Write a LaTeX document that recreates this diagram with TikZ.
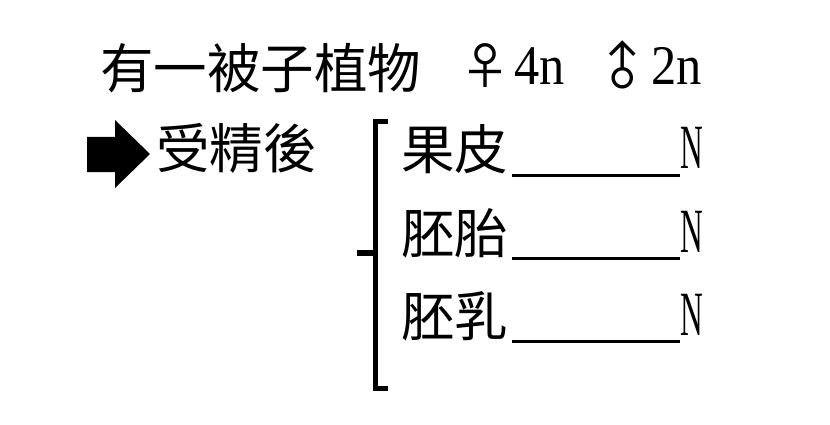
\documentclass[tikz,border=0pt]{standalone}
\usepackage{fontspec}
\newfontfamily\cjk{Noto Sans CJK TC}
\newfontfamily\digitfont[FakeStretch=0.9]{Liberation Serif}
\newfontfamily\capfont[FakeStretch=0.5]{Liberation Serif}

\begin{document}
\begin{tikzpicture}[x=1pt, y=-1pt,
    word/.style={inner sep=0pt, anchor=base west, font=\cjk\fontsize{53.5}{60}\selectfont},
    ploidy/.style={inner sep=0pt, anchor=base west, font=\digitfont\fontsize{56}{60}\selectfont},
    bigN/.style={inner sep=0pt, anchor=base west, font=\capfont\fontsize{63}{66}\selectfont},
    sex/.style={inner sep=0pt, font=\cjk\fontsize{50}{54}\selectfont},
    blank/.style={line width=3pt}]
    \useasboundingbox (0,0) rectangle (830,425);

    % Title line
    \node[word] (plant) at (100,89) {有一被子植物};
    \node[sex] (female) at (485,66) {♀};
    \node[ploidy] (fourn) at (514,85) {4n};
    \node[sex] (male) at (636,80) {\rotatebox{45}{\smash{♂}}};
    \node[ploidy] (twon) at (651,85) {2n};

    % Arrow to fertilisation
    \fill (87,137) -- (115,137) -- (115,120) -- (150,154) -- (115,188) -- (115,172) -- (87,172) -- cycle;
    \node[word] (fert) at (156,168) {受精後};

    % Bracket
    \draw[line width=5pt] (388,121.5) -- (375,121.5) -- (375,388.5) -- (388,388.5);
    \draw[line width=6pt] (357,253) -- (375,253);

    % Parts after fertilisation
    \node[word] (pericarp) at (401,170) {果皮};
    \node[word] (embryo) at (401,253) {胚胎};
    \node[word] (endosperm) at (401,336) {胚乳};

    \node[bigN] (pericarpN) at (680,168) {N};
    \node[bigN] (embryoN) at (680,252) {N};
    \node[bigN] (endospermN) at (680,335) {N};

    % Blanks to fill in
    \draw[blank] ([xshift=4pt, yshift=-5pt]pericarp.base east) -- ([yshift=-5pt]pericarp.base east -| pericarpN.west);
    \draw[blank] ([xshift=4pt, yshift=-5pt]embryo.base east) -- ([yshift=-5pt]embryo.base east -| embryoN.west);
    \draw[blank] ([xshift=4pt, yshift=-5pt]endosperm.base east) -- ([yshift=-5pt]endosperm.base east -| endospermN.west);
\end{tikzpicture}
\end{document}
